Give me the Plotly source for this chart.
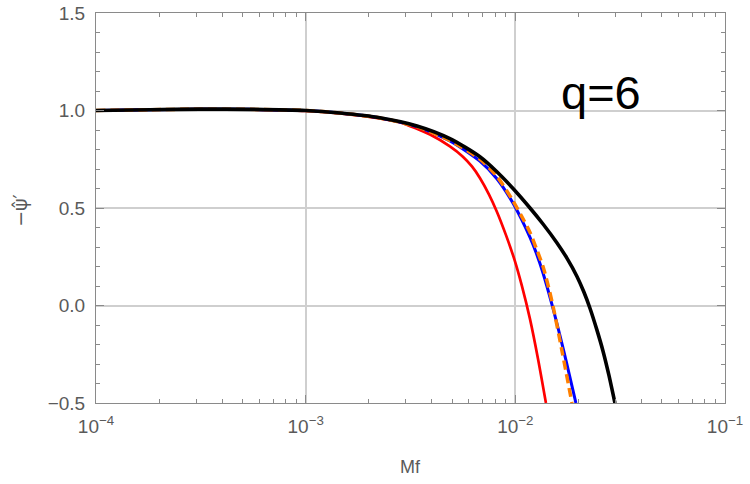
import plotly.graph_objects as go

# log10(Mf) sample positions and -psi' values
black_logmf = [-4.0, -3.742, -3.504, -3.266, -3.0, -2.836, -2.646, -2.469, -2.312, -2.169, -2.088,
               -2.011, -1.930, -1.868, -1.802, -1.754, -1.706, -1.673, -1.644, -1.611, -1.582, -1.554, -1.525]
black_val = [1.0, 1.004, 1.007, 1.006, 1.0, 0.987, 0.963, 0.921, 0.856, 0.763, 0.686,
             0.600, 0.500, 0.418, 0.322, 0.243, 0.149, 0.069, -0.014, -0.125, -0.233, -0.356, -0.5]

blue_logmf = [-4.0, -3.742, -3.504, -3.266, -3.0, -2.836, -2.646, -2.469, -2.312, -2.169, -2.088,
              -2.011, -1.971, -1.930, -1.899, -1.868, -1.821, -1.773, -1.742, -1.711]
blue_val = [1.0, 1.004, 1.007, 1.006, 1.0, 0.987, 0.962, 0.917, 0.844, 0.740, 0.650,
            0.525, 0.443, 0.349, 0.266, 0.167, -0.012, -0.216, -0.357, -0.5]

orange_logmf = [-4.0, -3.742, -3.504, -3.266, -3.0, -2.836, -2.646, -2.469, -2.312, -2.169, -2.088,
                -2.011, -1.971, -1.930, -1.899, -1.868, -1.825, -1.778, -1.730]
orange_val = [1.0, 1.004, 1.007, 1.006, 1.0, 0.987, 0.962, 0.917, 0.846, 0.75, 0.663,
              0.536, 0.46, 0.375, 0.29, 0.2, 0.02, -0.23, -0.5]

red_logmf = [-4.0, -3.742, -3.504, -3.266, -3.0, -2.836, -2.646, -2.550, -2.407, -2.312, -2.250, -2.207,
             -2.169, -2.126, -2.088, -2.045, -2.002, -1.969, -1.930, -1.892, -1.854]
red_val = [1.0, 1.004, 1.007, 1.005, 0.998, 0.985, 0.959, 0.939, 0.877, 0.816, 0.763, 0.713,
           0.654, 0.570, 0.481, 0.362, 0.228, 0.102, -0.070, -0.273, -0.5]

x_tickvals = [1e-4, 1e-3, 1e-2, 1e-1]
x_ticktext = ["10<sup>−4</sup>", "10<sup>−3</sup>", "10<sup>−2</sup>", "10<sup>−1</sup>"]
y_tickvals = [-0.5, 0.0, 0.5, 1.0, 1.5]
y_ticktext = ["−0.5", "0.0", "0.5", "1.0", "1.5"]

def to_mf(lst):
    return [10 ** v for v in lst]

fig = go.Figure()
series = [
    (red_logmf, red_val, "#FF0000", 2.7, "solid"),
    (blue_logmf, blue_val, "#0000FF", 3.0, "solid"),
    (orange_logmf, orange_val, "#FF8000", 3.5, "9px,5px"),
    (black_logmf, black_val, "#000000", 3.6, "solid"),
]
for lx, v, c, w, d in series:
    fig.add_trace(go.Scatter(x=to_mf(lx), y=v, mode="lines",
                             line=dict(color=c, width=w, dash=d, shape="spline", smoothing=0.7),
                             showlegend=False))

minor_x = [m * 10 ** e for e in (-4, -3, -2) for m in range(2, 10)]
minor_y = [round(-0.5 + 0.1 * i, 2) for i in range(21)]

tickfont = dict(family="Liberation Sans, Arial, sans-serif", size=19, color="#5a5a5a")
frame = "#8a8a8a"

common = dict(showgrid=True, gridcolor="#cfcfcf", gridwidth=1.5, ticks="inside", ticklen=8,
              tickcolor=frame, showline=True, linecolor=frame, linewidth=1, mirror="ticks",
              zeroline=False, tickfont=tickfont, ticklabelstandoff=6, automargin=False)

fig.update_xaxes(type="log", range=[-4, -1], tickmode="array", tickvals=x_tickvals, ticktext=x_ticktext,
                 minor=dict(tickmode="array", tickvals=minor_x, ticks="inside", ticklen=4,
                            tickcolor=frame, showgrid=False), **common)
fig.update_yaxes(range=[-0.5, 1.5], tickmode="array", tickvals=y_tickvals, ticktext=y_ticktext,
                 minor=dict(tickmode="array", tickvals=minor_y, ticks="inside", ticklen=4,
                            tickcolor=frame, showgrid=False), **common)

fig.add_annotation(text="q=6", x=-1.59, y=1.09, xref="x", yref="y", showarrow=False,
                   xanchor="center", yanchor="middle",
                   font=dict(family="Liberation Sans, Arial, sans-serif", size=47, color="black"))
fig.add_annotation(text="Mf", x=0.5, y=-0.164, xref="paper", yref="paper", showarrow=False,
                   xanchor="center", yanchor="middle",
                   font=dict(family="Liberation Sans, Arial, sans-serif", size=18, color="#5a5a5a"))
fig.add_annotation(text="−ψ̂′", x=-0.121, y=0.495, xref="paper", yref="paper", showarrow=False,
                   xanchor="center", yanchor="middle", textangle=-90,
                   font=dict(family="DejaVu Sans, sans-serif", size=19, color="#5a5a5a"))

fig.update_layout(width=750, height=484, margin=dict(l=96, r=25, t=13, b=81),
                  plot_bgcolor="white", paper_bgcolor="white")
fig.write_html("out.html")
